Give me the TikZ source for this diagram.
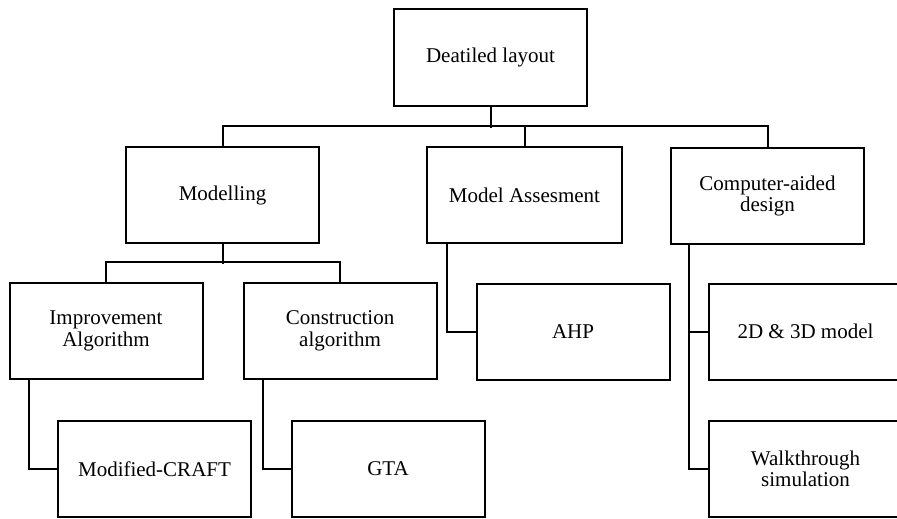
\documentclass[tikz,border=0pt]{standalone}
\usepackage{fontspec}
\setmainfont{Liberation Serif}
\begin{document}
\begin{tikzpicture}[x=1pt,y=-1pt,
  box/.style={draw,line width=2pt,rectangle,minimum width=193pt,minimum height=96pt,
    inner sep=0pt,align=center,font=\fontsize{21}{21.5}\selectfont},
  link/.style={line width=2pt}]
\useasboundingbox (0,0) rectangle (897,519);

% top level
\node[box,minimum height=97pt] (dl) at (490.5,57.5) {Deatiled layout};

% second level
\node[box] (mod) at (222.5,195) {Modelling};
\node[box,minimum width=195pt] (ma) at (524.5,195) {Model Assesment};
\node[box] (cad) at (767.5,196) {Computer-aided\\design};

% third level
\node[box] (imp) at (106,331) {Improvement\\Algorithm};
\node[box] (con) at (340,331) {Construction\\algorithm};
\node[box] (ahp) at (573,331.5) {AHP};
\node[box] (twod) at (805.5,331.5) {2D \& 3D model};

% fourth level
\node[box] (mc) at (154.5,469) {Modified-CRAFT};
\node[box] (gta) at (388,469) {GTA};
\node[box] (wt) at (805.5,469) {Walkthrough\\simulation};

% tree from the top box
\draw[link] (dl.south) -- ++(0,20.5);
\draw[link] (mod.north) -- ++(0,-20.5) -| (cad.north);
\draw[link] (ma.north) -- ++(0,-20.5);

% Modelling branches
\draw[link] (mod.south) -- ++(0,20);
\draw[link] (imp.north) -- ++(0,-20) -| (con.north);

% side connectors
\draw[link] ([xshift=21pt]ma.south west) |- (ahp.west);
\draw[link] ([xshift=20pt]imp.south west) |- (mc.west);
\draw[link] ([xshift=20pt]con.south west) |- (gta.west);
\draw[link] ([xshift=19pt]cad.south west) |- (wt.west);
\draw[link] (twod.west) -- ++(-19,0);
\end{tikzpicture}
\end{document}
